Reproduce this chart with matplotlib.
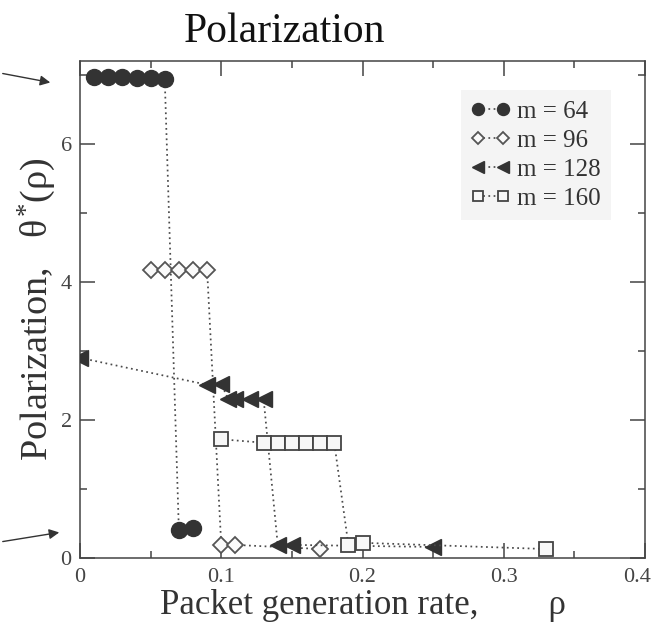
import matplotlib
matplotlib.use("Agg")
import matplotlib.pyplot as plt
from matplotlib.ticker import MultipleLocator
from matplotlib.transforms import ScaledTranslation

plt.rcParams['font.family'] = ['Liberation Serif', 'DejaVu Serif']
plt.rcParams['mathtext.fontset'] = 'custom'
plt.rcParams['mathtext.rm'] = 'Liberation Serif'
plt.rcParams['mathtext.it'] = 'Liberation Serif'
plt.rcParams['mathtext.bf'] = 'Liberation Serif:bold'

# ---- data ----
x64 = [0.01, 0.02, 0.03, 0.04, 0.05, 0.06, 0.07, 0.08]
y64 = [6.97, 6.97, 6.97, 6.95, 6.95, 6.94, 0.40, 0.43]

x96 = [0.05, 0.06, 0.07, 0.08, 0.09, 0.10, 0.11, 0.17]
y96 = [4.17, 4.17, 4.17, 4.17, 4.17, 0.19, 0.19, 0.13]

x128 = [0.0, 0.09, 0.10, 0.105, 0.11, 0.12, 0.13, 0.14, 0.15, 0.25]
y128 = [2.90, 2.51, 2.52, 2.30, 2.30, 2.30, 2.30, 0.19, 0.19, 0.16]

x160 = [0.10, 0.13, 0.14, 0.15, 0.16, 0.17, 0.18, 0.19, 0.20, 0.33]
y160 = [1.72, 1.67, 1.67, 1.67, 1.67, 1.67, 1.67, 0.19, 0.22, 0.13]

labels = ["m = 64", "m = 96", "m = 128", "m = 160"]
xticks = [0, 0.1, 0.2, 0.3, 0.4]
xticklabels = ["0", "0.1", "0.2", "0.3", "0.4"]
yticks = [0, 2, 4, 6]

W, H = 657, 632
fig = plt.figure(figsize=(W / 100, H / 100), dpi=100)
ax = fig.add_axes([80 / W, 1 - 558 / H, 565 / W, 497 / H])

ls = (0, (1, 2.0))
lc = '#4a4a4a'
lw = 1.25
ax.plot(x64, y64, linestyle=ls, color=lc, lw=lw, marker='o', ms=11.5,
        mfc='#333333', mec='#333333', label=labels[0], zorder=3)
ax.plot(x96, y96, linestyle=ls, color=lc, lw=lw, marker='D', ms=8.5,
        mfc='#fafafa', mec='#555555', mew=1.3, label=labels[1], zorder=3)
ax.plot(x128, y128, linestyle=ls, color=lc, lw=lw, marker='<', ms=11,
        mfc='#333333', mec='#333333', label=labels[2], zorder=3)
ax.plot(x160, y160, linestyle=ls, color=lc, lw=lw, marker='s', ms=10,
        mfc='#f7f7f7', mec='#444444', mew=1.3, label=labels[3], zorder=3)

ax.set_xlim(0, 0.4)
ax.set_ylim(0, 7.2)
ax.set_xticks(xticks)
ax.set_xticklabels(xticklabels)
ax.set_yticks(yticks)
ax.xaxis.set_minor_locator(MultipleLocator(0.05))
ax.yaxis.set_minor_locator(MultipleLocator(1))
ax.tick_params(which='both', direction='in', top=True, right=True,
               colors='#444444', labelcolor='#444444', labelsize=16, width=1.1)
ax.tick_params(which='major', length=11)
ax.tick_params(which='minor', length=5)
ax.tick_params(axis='x', pad=7)
ax.tick_params(axis='y', pad=6)
for s in ax.spines.values():
    s.set_color('#444444')
    s.set_linewidth(1.1)

# keep the last x tick label inside the canvas
last = ax.get_xticklabels()[-1]
last.set_transform(last.get_transform() + ScaledTranslation(-8 / 100, 0, fig.dpi_scale_trans))

ax.set_xlabel("Packet generation rate,        \u03c1", fontsize=25,
              color='#333333', labelpad=2)
ax.set_ylabel(r"Polarization,   $\theta^{*}(\rho)$", fontsize=27.5,
              color='#333333')
ax.yaxis.set_label_coords((58 - 80) / 565, 0.5)

leg = ax.legend(loc='upper left', bbox_to_anchor=(0.652, 0.966), fontsize=18,
                numpoints=2, markerscale=0.75, handlelength=1.6,
                handletextpad=0.25, labelspacing=0.26, borderpad=0.4,
                frameon=True, fancybox=False, framealpha=1,
                facecolor='#f4f4f4', edgecolor='none')
for t in leg.get_texts():
    t.set_color('#333333')

fig.text(285 / W, 1 - 42 / H, "Polarization", fontsize=30, ha='center',
         va='baseline', color='#111111')

for (x0, y0, x1, y1) in [(0, 73, 53, 83), (0, 542, 62, 532)]:
    fig.add_artist(matplotlib.patches.FancyArrowPatch(
        (x0 / W, 1 - y0 / H), (x1 / W, 1 - y1 / H), transform=fig.transFigure,
        arrowstyle='-|>,head_length=6,head_width=3', color='#333333', lw=1.0))

fig.savefig("out.png", dpi=100)
